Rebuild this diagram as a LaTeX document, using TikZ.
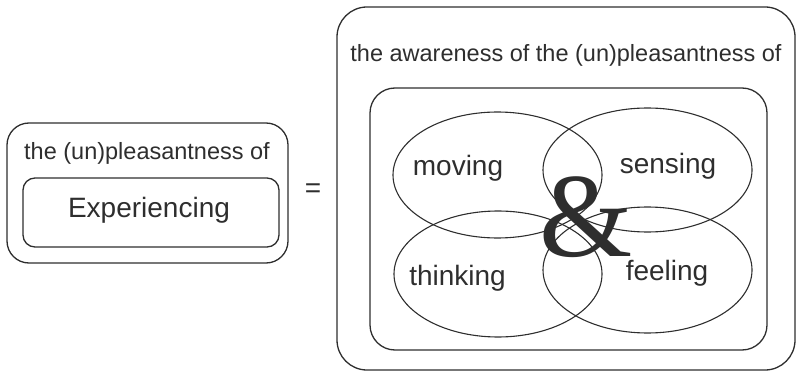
\documentclass[tikz,border=0pt]{standalone}
\usepackage{fontspec}
\setmainfont{Liberation Sans}
\newfontfamily\ampfont{Liberation Serif}
\usetikzlibrary{shapes.geometric}
\definecolor{ink}{HTML}{2E2E2E}
\tikzset{
  rbox/.style={draw=ink, line width=1.3pt, inner sep=0pt, rectangle},
  oval/.style={draw=ink, line width=1.1pt, ellipse, inner sep=0pt},
  smalltxt/.style={text=ink, inner sep=0pt, anchor=base, font=\fontsize{23.5}{28}\selectfont},
  bigtxt/.style={text=ink, inner sep=0pt, anchor=base, font=\fontsize{28}{33}\selectfont},
}
\begin{document}
\begin{tikzpicture}[x=1pt,y=-1pt]
\useasboundingbox (0,0) rectangle (799,371);
% left group
\node[rbox, rounded corners=22pt, minimum width=281pt, minimum height=140pt] (lout) at (147.5,193) {};
\node[rbox, rounded corners=12pt, minimum width=256pt, minimum height=69pt] (lin) at (151,212.5) {};
\node[smalltxt] (ltitle) at (147,160) {the (un)pleasantness of};
\node[bigtxt] (exp) at (149,218) {Experiencing};
% equals
\node[bigtxt] (eq) at (313,197) {=};
% right group
\node[rbox, rounded corners=30pt, minimum width=458pt, minimum height=363pt] (rout) at (566,188.5) {};
\node[smalltxt] (rtitle) at (566,62) {the awareness of the (un)pleasantness of};
\node[rbox, rounded corners=25pt, minimum width=397pt, minimum height=262pt] (rin) at (568.5,219) {};
% ellipses
\node[oval, minimum width=209pt, minimum height=126pt] (emov) at (497.5,175) {};
\node[oval, minimum width=209pt, minimum height=124pt] (esen) at (647.5,170) {};
\node[oval, minimum width=208pt, minimum height=126pt] (ethi) at (498,274) {};
\node[oval, minimum width=209pt, minimum height=126pt] (efee) at (647.5,270) {};
% labels
\node[bigtxt] (tmov) at (458,176) {moving};
\node[bigtxt] (tsen) at (668,174) {sensing};
\node[bigtxt] (tthi) at (457.5,285) {thinking};
\node[bigtxt] (tfee) at (667,280) {feeling};
% ampersand
\node[text=ink, inner sep=0pt, anchor=base, font=\ampfont\fontsize{120}{120}\selectfont] (amp) at (586,256) {\&};
\end{tikzpicture}
\end{document}
